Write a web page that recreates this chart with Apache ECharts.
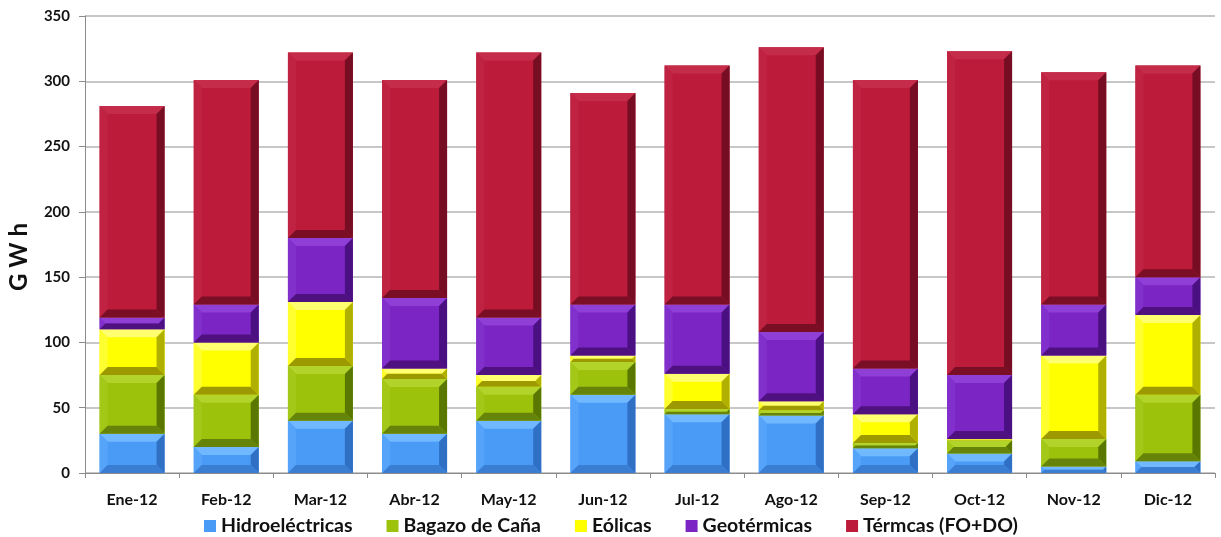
<!DOCTYPE html>
<html>
<head>
<meta charset="utf-8">
<script src="https://cdn.jsdelivr.net/npm/echarts@6/dist/echarts.min.js"></script>
<style>
  html, body { margin: 0; padding: 0; background: #ffffff; }
  #chart { width: 1221px; height: 537px; }
</style>
</head>
<body>
<div id="chart"></div>
<script>
// Monthly generation by source, 2012 (GWh)
const months = ['Ene-12', 'Feb-12', 'Mar-12', 'Abr-12', 'May-12', 'Jun-12',
                'Jul-12', 'Ago-12', 'Sep-12', 'Oct-12', 'Nov-12', 'Dic-12'];

const hidroelectricas = [30, 20, 40, 30, 40, 60, 45, 44, 19, 15, 5, 9];
const bagazo          = [45, 40, 42, 42, 26, 25, 4, 4, 4, 10, 21, 51];
const eolicas         = [35, 40, 49, 8, 9, 5, 27, 7, 22, 1, 64, 61];
const geotermicas     = [9, 29, 49, 54, 44, 39, 53, 53, 35, 49, 39, 29];
const termicas        = [162, 172, 142, 167, 203, 162, 183, 218, 221, 248, 178, 162];

const yTicks = [0, 50, 100, 150, 200, 250, 300, 350];
const yTitle = 'G W h';

// Series definitions with bevel tones: main, top edge, left edge, right edge, bottom edge
const sources = [
  { name: 'Hidroeléctricas',  values: hidroelectricas,
    tones: ['#4a9bf6', '#70b8ff', '#55a4fa', '#2f70c4', '#3a7ed4'] },
  { name: 'Bagazo de Caña',   values: bagazo,
    tones: ['#9cc20c', '#b2d42a', '#a3c818', '#5a7800', '#66830a'] },
  { name: 'Eólicas',          values: eolicas,
    tones: ['#ffff00', '#ffff70', '#ffff30', '#b0b000', '#9c9a00'] },
  { name: 'Geotérmicas',      values: geotermicas,
    tones: ['#7b25c5', '#8f3fd6', '#8230cc', '#4a0f80', '#4f1180'] },
  { name: 'Térmcas (FO+DO)',  values: termicas,
    tones: ['#bc1b3a', '#c52c4a', '#c02342', '#760d22', '#7a0e24'] }
];

// Build stacked [category, base, top] items
const running = months.map(() => 0);
const stacked = sources.map(src => src.values.map((v, i) => {
  const base = running[i];
  running[i] += v;
  return [i, base, running[i]];
}));

// Draws one stacked segment as a bevelled block
function bevelRenderer(tones) {
  return function (params, api) {
    const idx = api.value(0);
    const pBot = api.coord([idx, api.value(1)]);
    const pTop = api.coord([idx, api.value(2)]);
    const w = api.size([1, 0])[0] * 0.69;
    const x0 = pBot[0] - w / 2, x1 = pBot[0] + w / 2;
    const yT = pTop[1], yB = pBot[1];
    const h = yB - yT;
    if (h <= 0) return null;
    const b = Math.min(8, h / 2, w / 2);
    const poly = (pts, fill) => ({ type: 'polygon', shape: { points: pts }, style: { fill: fill } });
    return {
      type: 'group',
      children: [
        { type: 'rect', shape: { x: x0, y: yT, width: w, height: h }, style: { fill: tones[0] } },
        poly([[x0, yT], [x1, yT], [x1 - b, yT + b], [x0 + b, yT + b]], tones[1]),
        poly([[x0, yT], [x0 + b, yT + b], [x0 + b, yB - b], [x0, yB]], tones[2]),
        poly([[x1, yT], [x1, yB], [x1 - b, yB - b], [x1 - b, yT + b]], tones[3]),
        poly([[x0, yB], [x0 + b, yB - b], [x1 - b, yB - b], [x1, yB]], tones[4])
      ]
    };
  };
}

const font = 'Lato, "Open Sans", sans-serif';
const chart = echarts.init(document.getElementById('chart'), null, { renderer: 'canvas' });

chart.setOption({
  animation: false,
  backgroundColor: '#ffffff',
  grid: { left: 85, right: 6, top: 16, bottom: 64, containLabel: false },
  legend: {
    data: sources.map(s => s.name),
    left: 199,
    top: 511,
    itemWidth: 12,
    itemHeight: 12,
    itemGap: 34,
    icon: 'rect',
    textStyle: { fontFamily: font, fontWeight: 'bold', fontSize: 19.5, color: '#111111' }
  },
  graphic: [{
    type: 'text',
    x: 19,
    y: 257,
    rotation: Math.PI / 2,
    style: {
      text: yTitle,
      fontFamily: font,
      fontWeight: 'bold',
      fontSize: 24,
      fill: '#111111',
      align: 'center',
      verticalAlign: 'middle'
    }
  }],
  xAxis: {
    type: 'category',
    data: months,
    boundaryGap: true,
    axisLine: { lineStyle: { color: '#8c8c8c', width: 1 } },
    axisTick: { show: true, alignWithLabel: false, length: 5, lineStyle: { color: '#8c8c8c' } },
    axisLabel: { fontFamily: font, fontWeight: 'bold', fontSize: 16, color: '#111111', margin: 19 },
    splitLine: { show: false }
  },
  yAxis: {
    type: 'value',
    min: 0,
    max: yTicks[yTicks.length - 1],
    interval: yTicks[1] - yTicks[0],
    axisLine: { show: true, lineStyle: { color: '#8c8c8c', width: 1 } },
    axisTick: { show: true, length: 6, lineStyle: { color: '#8c8c8c' } },
    axisLabel: { fontFamily: font, fontWeight: 'bold', fontSize: 15, color: '#111111', margin: 15 },
    splitLine: { show: true, lineStyle: { color: '#b4b4b4', width: 1.5 } }
  },
  series: sources.map((src, k) => ({
    name: src.name,
    type: 'custom',
    renderItem: bevelRenderer(src.tones),
    itemStyle: { color: src.tones[0] },
    encode: { x: 0, y: [1, 2] },
    data: stacked[k]
  }))
});
</script>
</body>
</html>
